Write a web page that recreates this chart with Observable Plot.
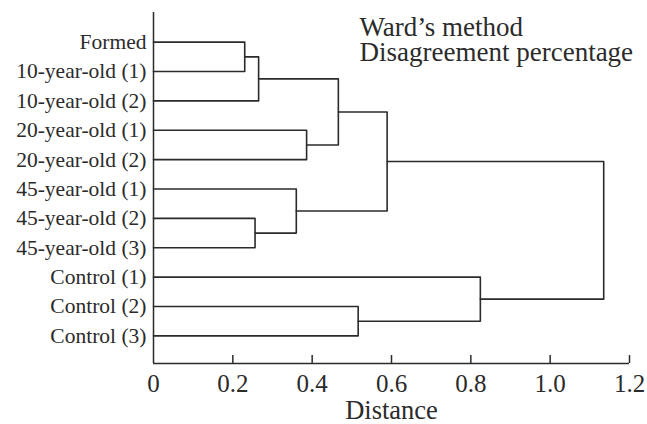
<!DOCTYPE html>
<html>
<head>
<meta charset="utf-8">
<script src="https://cdn.jsdelivr.net/npm/d3@7"></script>
<script src="https://cdn.jsdelivr.net/npm/@observablehq/plot@0.6"></script>
<style>
  body { margin: 0; background: #fff; }
  svg { font-family: "Liberation Serif", "Times New Roman", serif; }
</style>
</head>
<body>
<div id="chart"></div>
<script>
// Leaves, top to bottom
const leaves = [
  "Formed", "10-year-old (1)", "10-year-old (2)",
  "20-year-old (1)", "20-year-old (2)",
  "45-year-old (1)", "45-year-old (2)", "45-year-old (3)",
  "Control (1)", "Control (2)", "Control (3)"
];
// Merges: [child A, child B, distance]; children are leaf names or earlier merge ids "m1".."m10"
const mergeA = ["Formed", "m1", "20-year-old (1)", "m2", "45-year-old (2)", "45-year-old (1)", "m4", "Control (2)", "Control (1)", "m7"];
const mergeB = ["10-year-old (1)", "10-year-old (2)", "20-year-old (2)", "m3", "45-year-old (3)", "m5", "m6", "Control (3)", "m8", "m9"];
const mergeHeight = [0.230, 0.265, 0.386, 0.466, 0.256, 0.360, 0.589, 0.516, 0.824, 1.135];
const xTicks = [0, 0.2, 0.4, 0.6, 0.8, 1.0, 1.2];
const titleLines = ["Ward’s method", "Disagreement percentage"];
const xLabel = "Distance";

// node positions
const pos = new Map();
leaves.forEach((name, i) => pos.set(name, {x: 0, y: i}));
const segs = [];
mergeHeight.forEach((h, k) => {
  const id = "m" + (k + 1);
  const a = pos.get(mergeA[k]), b = pos.get(mergeB[k]);
  segs.push({id, x: a.x, y: a.y}, {id, x: h, y: a.y}, {id, x: h, y: b.y}, {id, x: b.x, y: b.y});
  pos.set(id, {x: h, y: (a.y + b.y) / 2});
});

const yMin = -1.01, yMax = 10.94;
const ink = "#2b2b2b";

const chart = Plot.plot({
  width: 647,
  height: 424,
  marginLeft: 153,
  marginRight: 18,
  marginTop: 12,
  marginBottom: 61,
  style: {fontFamily: "'Liberation Serif', 'Times New Roman', serif", color: ink, background: "#fff"},
  x: {domain: [0, 1.2]},
  y: {domain: [yMin, yMax], reverse: true},
  marks: [
    Plot.ruleX([0], {y1: yMin, y2: yMax, stroke: ink, strokeWidth: 1.5}),
    Plot.ruleY([yMax], {x1: 0, x2: 1.2, stroke: ink, strokeWidth: 1.5}),
    Plot.ruleX(xTicks.filter(d => d > 0), {x: d => d, y1: yMax, y2: yMax - 0.27, stroke: ink, strokeWidth: 1.5}),
    Plot.axisX({ticks: xTicks, tickSize: 0, tickPadding: 11, tickFormat: d => d === 0 ? "0" : d.toFixed(1), fontSize: 25, label: null}),
    Plot.axisY({ticks: d3.range(leaves.length), tickSize: 0, tickPadding: 7, tickFormat: i => leaves[i], fontSize: 21.5, label: null}),
    Plot.line(segs, {x: "x", y: "y", z: "id", stroke: ink, strokeWidth: 1.6}),
    Plot.text([xLabel], {frameAnchor: "bottom", dy: 37, lineAnchor: "top", fontSize: 26.5, fill: ink, letterSpacing: "0.4px"}),
    Plot.text([titleLines.join("\n")], {frameAnchor: "top-left", dx: 206, dy: 4.8, textAnchor: "start", lineAnchor: "top", lineHeight: 0.952, fontSize: 27, fill: ink})
  ]
});
document.getElementById("chart").appendChild(chart);
</script>
</body>
</html>
